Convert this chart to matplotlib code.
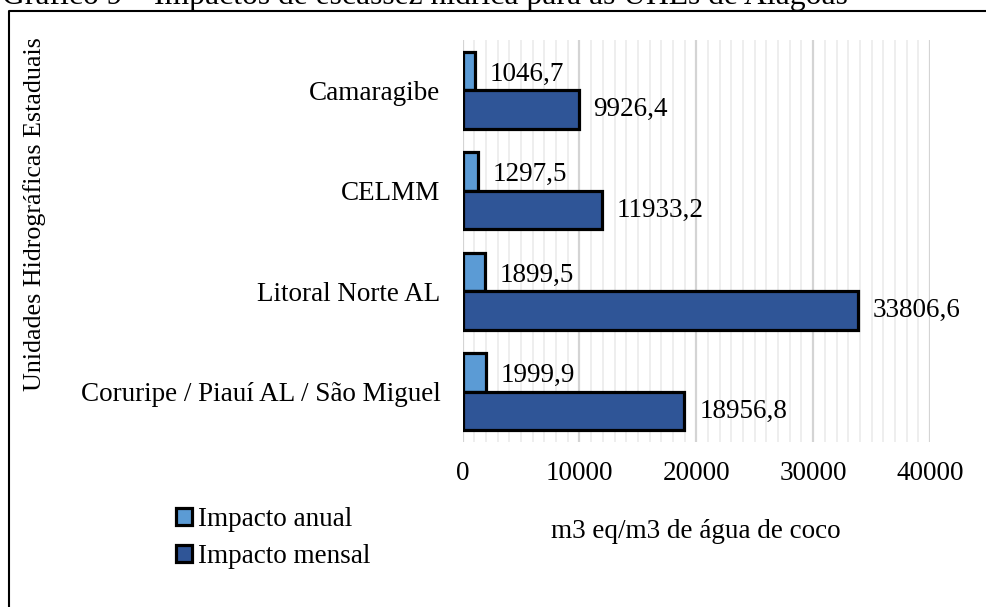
import numpy as np
import matplotlib.pyplot as plt
from matplotlib.patches import Patch
from matplotlib.lines import Line2D

plt.rcParams['font.family'] = ['Liberation Serif', 'DejaVu Serif']

# data (top to bottom)
categories = ['Camaragibe', 'CELMM', 'Litoral Norte AL', 'Coruripe / Piauí AL / São Miguel']
impacto_anual = [1046.7, 1297.5, 1899.5, 1999.9]
impacto_mensal = [9926.4, 11933.2, 33806.6, 18956.8]
anual_labels = ['1046,7', '1297,5', '1899,5', '1999,9']
mensal_labels = ['9926,4', '11933,2', '33806,6', '18956,8']
xticks = [0, 10000, 20000, 30000, 40000]

c_anual = '#5B9BD5'
c_mensal = '#2F5597'
fs = 19.5

W, H = 986, 607
fig = plt.figure(figsize=(W / 100, H / 100), dpi=100)
ax = fig.add_axes([462.6 / W, 1 - 442 / H, (930 - 462.6) / W, 402 / H])

y = np.arange(len(categories))
h = 0.383
ax.barh(y - h / 2, impacto_anual, height=h, color=c_anual, edgecolor='black', linewidth=2.3, zorder=3)
ax.barh(y + h / 2, impacto_mensal, height=h, color=c_mensal, edgecolor='black', linewidth=2.3, zorder=3)

# value labels, outside end
for i in range(len(categories)):
    ax.annotate(anual_labels[i], (impacto_anual[i], y[i] - h / 2 + 0.03), xytext=(15, 0),
                textcoords='offset pixels', va='center', ha='left', fontsize=fs)
    ax.annotate(mensal_labels[i], (impacto_mensal[i], y[i] + h / 2), xytext=(15, 0),
                textcoords='offset pixels', va='center', ha='left', fontsize=fs)

ax.set_xlim(0, 40000)
ax.set_ylim(len(categories) - 0.5, -0.5)
ax.set_xticks(xticks)
ax.set_xticks(np.arange(0, 40001, 1000), minor=True)
ax.set_yticks(y)
ax.set_yticklabels(categories)
ax.tick_params(axis='both', which='both', length=0, labelsize=fs)
ax.tick_params(axis='x', pad=14)
ax.tick_params(axis='y', pad=16)
ax.grid(axis='x', which='minor', color='#EBEBEB', linewidth=1.2, zorder=0)
ax.grid(axis='x', which='major', color='#D4D4D4', linewidth=1.6, zorder=0)
for s in ax.spines.values():
    s.set_visible(False)

# axis titles
fig.text(35 / W, 1 - 214 / H, 'Unidades Hidrográficas Estaduais', rotation=90,
         ha='center', va='center', fontsize=18.7)
fig.text(696 / W, 1 - 532 / H, 'm3 eq/m3 de água de coco', ha='center', va='center', fontsize=fs)

# legend
handles = [Patch(facecolor=c_anual, edgecolor='black', linewidth=2.3, label='Impacto anual'),
           Patch(facecolor=c_mensal, edgecolor='black', linewidth=2.3, label='Impacto mensal')]
fig.legend(handles=handles, loc='upper left', bbox_to_anchor=(165 / W, 1 - 496 / H),
           frameon=False, fontsize=fs, handlelength=0.6, handleheight=0.6,
           handletextpad=0.2, labelspacing=0.45, borderaxespad=0)

# title clipped at the top, and the chart frame
fig.text(2 / W, 1 - 4 / H, 'Gráfico 9 – Impactos de escassez hídrica para as UHEs de Alagoas',
         ha='left', va='baseline', fontsize=22.8)
fig.add_artist(Line2D([9 / W, 9 / W, 1], [0, 1 - 11 / H, 1 - 11 / H], color='black', linewidth=1.5))

fig.savefig('out.png', dpi=100)
